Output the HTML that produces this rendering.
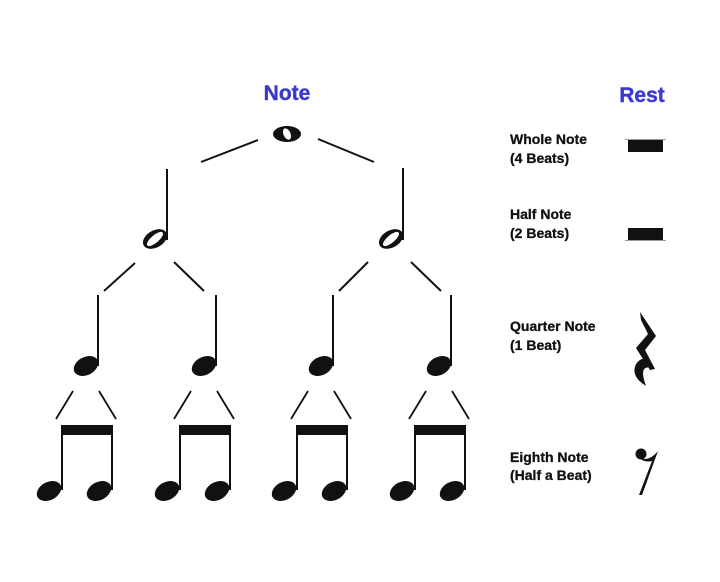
<!DOCTYPE html>
<html><head><meta charset="utf-8"><style>
html,body{margin:0;padding:0;background:#fff;}
svg{display:block;}
text{font-family:"Liberation Sans",Arial,sans-serif;font-weight:bold;}
</style></head><body>
<svg width="720" height="582" viewBox="0 0 720 582" xmlns="http://www.w3.org/2000/svg">
<text x="287" y="100" font-size="21" fill="#3a3acc" text-anchor="middle" stroke="#3a3acc" stroke-width="0.4">Note</text>
<text x="642" y="102" font-size="21" fill="#3a3acc" text-anchor="middle" stroke="#3a3acc" stroke-width="0.4">Rest</text>
<g fill="#111" font-size="14" stroke="#111" stroke-width="0.3">
<text x="510" y="144">Whole Note</text><text x="510" y="163">(4 Beats)</text>
<text x="510" y="219">Half Note</text><text x="510" y="238">(2 Beats)</text>
<text x="510" y="331">Quarter Note</text><text x="510" y="350">(1 Beat)</text>
<text x="510" y="462">Eighth Note</text><text x="510" y="480">(Half a Beat)</text>
</g>
<g stroke="#111" stroke-width="2" fill="none">
<line x1="201" y1="162" x2="258" y2="140"/><line x1="318" y1="139" x2="374" y2="162"/>
<line x1="135" y1="263" x2="104" y2="291"/><line x1="174" y1="262" x2="204" y2="291"/>
<line x1="368" y1="262" x2="339" y2="291"/><line x1="411" y1="262" x2="441" y2="291"/>
<line x1="167" y1="169" x2="167" y2="240"/><line x1="403" y1="168" x2="403" y2="240"/>
</g>
<ellipse cx="287" cy="134" rx="14" ry="8" fill="#111"/>
<ellipse cx="287" cy="134" rx="3.5" ry="6" fill="#fff" transform="rotate(-25 287 134)"/>
<g>
<ellipse cx="155" cy="239" rx="13" ry="8.5" fill="#111" transform="rotate(-30 155 239)"/>
<ellipse cx="155" cy="239" rx="10" ry="3.8" fill="#fff" transform="rotate(-40 155 239)"/>
<ellipse cx="391" cy="239" rx="13" ry="8.5" fill="#111" transform="rotate(-30 391 239)"/>
<ellipse cx="391" cy="239" rx="10" ry="3.8" fill="#fff" transform="rotate(-40 391 239)"/>
</g>
<g id="q" fill="#111" stroke="#111">
<line x1="98" y1="295" x2="98" y2="366" stroke-width="2"/>
<ellipse cx="86" cy="366" rx="13" ry="9" stroke="none" transform="rotate(-28 86 366)"/>
<line x1="73" y1="391" x2="56" y2="419" stroke-width="1.8"/><line x1="99" y1="391" x2="116" y2="419" stroke-width="1.8"/>
<rect x="61" y="425" width="52" height="10" stroke="none"/>
<line x1="62" y1="425" x2="62" y2="490" stroke-width="2"/><line x1="112" y1="425" x2="112" y2="490" stroke-width="2"/>
<ellipse cx="49" cy="491" rx="13" ry="9" stroke="none" transform="rotate(-28 49 491)"/>
<ellipse cx="99" cy="491" rx="13" ry="9" stroke="none" transform="rotate(-28 99 491)"/>
</g>
<use href="#q" x="118"/>
<use href="#q" x="235"/>
<use href="#q" x="353"/>
<line x1="625" y1="139.5" x2="666" y2="139.5" stroke="#999" stroke-width="1"/>
<rect x="628" y="140" width="35" height="12" fill="#111"/>
<line x1="625" y1="240.5" x2="666" y2="240.5" stroke="#999" stroke-width="1"/>
<rect x="628" y="228" width="35" height="12" fill="#111"/>
<polygon points="640,312 656,336 645,350 655,369 650,370 636,348 648,334 641,320" fill="#111"/>
<path d="M652,368 Q638,364 646,386 Q630,376 636,364 Q642,356 648,360 Z" fill="#111"/>
<circle cx="641" cy="454" r="5.5" fill="#111"/>
<path d="M638,457 Q648,463 658,451 L642,495 L639,495 L652,461 Q644,463 638,457 Z" fill="#111"/>
</svg>
</body></html>
